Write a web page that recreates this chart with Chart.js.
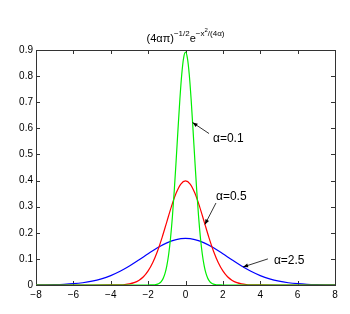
<!DOCTYPE html>
<html><head><meta charset="utf-8">
<script src="https://cdn.jsdelivr.net/npm/chart.js@4"></script>
<style>html,body{margin:0;padding:0;background:#fff}#wrap{width:350px;height:314px}</style>
</head><body><div id="wrap"><canvas id="c" width="350" height="314"></canvas></div>
<script>
// alpha = 0.1 (green)
const xGreen=[-8,-2.0,-1.9,-1.8,-1.7,-1.6,-1.5,-1.4,-1.3,-1.2,-1.1,-1.0,-0.9,-0.8,-0.7,-0.6,-0.5,-0.4,-0.3,-0.2,-0.1,0,
0.1,0.2,0.3,0.4,0.5,0.6,0.7,0.8,0.9,1.0,1.1,1.2,1.3,1.4,1.5,1.6,1.7,1.8,1.9,2.0,8];
const yGreen=[0,0.0000,0.0001,0.0003,0.0006,0.0015,0.0032,0.0066,0.0130,0.0244,0.0433,0.0732,0.1178,0.1801,0.2621,0.3627,0.4775,0.5980,0.7124,0.8072,0.8701,0.8921,
0.8701,0.8072,0.7124,0.5980,0.4775,0.3627,0.2621,0.1801,0.1178,0.0732,0.0433,0.0244,0.0130,0.0066,0.0032,0.0015,0.0006,0.0003,0.0001,0.0000,0];
// alpha = 0.5 (red)
const xRed=[-8,-7,-6,-5,-4,-3.75,-3.5,-3.25,-3,-2.75,-2.5,-2.25,-2,-1.75,-1.5,-1.25,-1,-0.75,-0.5,-0.25,0,
0.25,0.5,0.75,1,1.25,1.5,1.75,2,2.25,2.5,2.75,3,3.25,3.5,3.75,4,5,6,7,8];
const yRed=[0,0,0,0,0.0001,0.0004,0.0009,0.0020,0.0044,0.0091,0.0175,0.0317,0.0540,0.0863,0.1295,0.1826,0.2420,0.3011,0.3521,0.3867,0.3989,
0.3867,0.3521,0.3011,0.2420,0.1826,0.1295,0.0863,0.0540,0.0317,0.0175,0.0091,0.0044,0.0020,0.0009,0.0004,0.0001,0,0,0,0];
// alpha = 2.5 (blue)
const xBlue=[-8,-7.5,-7,-6.5,-6,-5.5,-5,-4.5,-4,-3.5,-3,-2.5,-2,-1.5,-1,-0.5,0,0.5,1,1.5,2,2.5,3,3.5,4,4.5,5,5.5,6,6.5,7,7.5,8];
const yBlue=[0.0003,0.0006,0.0013,0.0026,0.0049,0.0087,0.0146,0.0235,0.0360,0.0524,0.0725,0.0955,0.1196,0.1425,0.1614,0.1740,0.1784,
0.1740,0.1614,0.1425,0.1196,0.0955,0.0725,0.0524,0.0360,0.0235,0.0146,0.0087,0.0049,0.0026,0.0013,0.0006,0.0003];

const xTicks=[-8,-6,-4,-2,0,2,4,6,8];
const yTicks=[0,0.1,0.2,0.3,0.4,0.5,0.6,0.7,0.8,0.9];

// annotations: label text, label anchor (data), arrow tail (data), arrow head (data)
const annLabels=['\u03b1=0.1','\u03b1=0.5','\u03b1=2.5'];
const annTextPos=[[1.47,0.56],[1.63,0.34],[4.73,0.092]];
const annTail=[[1.26,0.58],[1.63,0.314],[4.41,0.100]];
const annHead=[[0.38,0.622],[1.04,0.232],[3.08,0.069]];

const toPts=(xs,ys)=>xs.map((x,i)=>({x:x,y:ys[i]}));
const FONT='"Liberation Sans", Arial, Helvetica, sans-serif';

const boxPlugin={
  id:'box',
  beforeDatasetsDraw(chart){
    const {ctx,chartArea:a,scales:{x,y}}=chart;
    ctx.save();
    ctx.strokeStyle='#333';ctx.lineWidth=1;
    ctx.beginPath();
    xTicks.forEach(v=>{const p=Math.round(x.getPixelForValue(v))+0.5;
      ctx.moveTo(p,a.bottom);ctx.lineTo(p,a.bottom-4);ctx.moveTo(p,a.top);ctx.lineTo(p,a.top+4);});
    yTicks.forEach(v=>{const p=Math.round(y.getPixelForValue(v))+0.5;
      ctx.moveTo(a.left,p);ctx.lineTo(a.left+4,p);ctx.moveTo(a.right,p);ctx.lineTo(a.right-4,p);});
    ctx.stroke();
    ctx.strokeRect(Math.round(a.left)+0.5,Math.round(a.top)+0.5,Math.round(a.right-a.left),Math.round(a.bottom-a.top));
    ctx.restore();
  },
  afterDatasetsDraw(chart){
    const {ctx,scales:{x,y}}=chart;
    ctx.save();
    // annotations
    ctx.font='12px '+FONT;ctx.fillStyle='#000';ctx.strokeStyle='#000';ctx.lineWidth=0.8;
    ctx.textBaseline='middle';ctx.textAlign='left';
    annLabels.forEach((t,i)=>{
      ctx.fillText(t,x.getPixelForValue(annTextPos[i][0]),y.getPixelForValue(annTextPos[i][1]));
      const tx=x.getPixelForValue(annTail[i][0]),ty=y.getPixelForValue(annTail[i][1]);
      const hx=x.getPixelForValue(annHead[i][0]),hy=y.getPixelForValue(annHead[i][1]);
      ctx.beginPath();ctx.moveTo(tx,ty);ctx.lineTo(hx,hy);ctx.stroke();
      const ang=Math.atan2(hy-ty,hx-tx),L=5,W=2;
      ctx.beginPath();
      ctx.moveTo(hx,hy);
      ctx.lineTo(hx-L*Math.cos(ang)+W*Math.sin(ang),hy-L*Math.sin(ang)-W*Math.cos(ang));
      ctx.lineTo(hx-L*Math.cos(ang)-W*Math.sin(ang),hy-L*Math.sin(ang)+W*Math.cos(ang));
      ctx.closePath();ctx.fill();
    });
    // title with superscripts
    const segs=[['(4\u03b1\u03c0)',11,0],['\u22121/2',8,-6],['e',11,0],['\u2212x',8,-6],['2',6,-10],['/(4\u03b1)',8,-6]];
    let w=0;segs.forEach(s=>{ctx.font=s[1]+'px '+FONT;w+=ctx.measureText(s[0]).width;});
    const a=chart.chartArea;let cx=(a.left+a.right)/2-w/2;const base=42;
    ctx.textBaseline='alphabetic';
    segs.forEach(s=>{ctx.font=s[1]+'px '+FONT;ctx.fillText(s[0],cx,base+s[2]);cx+=ctx.measureText(s[0]).width;});
    ctx.restore();
  }
};

new Chart(document.getElementById('c'),{
  type:'line',
  data:{datasets:[
    {label:'\u03b1=0.1',data:toPts(xGreen,yGreen),borderColor:'#00ee00',borderWidth:1.2,pointRadius:0,cubicInterpolationMode:'monotone',fill:false},
    {label:'\u03b1=0.5',data:toPts(xRed,yRed),borderColor:'#ff0000',borderWidth:1.2,pointRadius:0,cubicInterpolationMode:'monotone',fill:false},
    {label:'\u03b1=2.5',data:toPts(xBlue,yBlue),borderColor:'#0000ff',borderWidth:1.2,pointRadius:0,cubicInterpolationMode:'monotone',fill:false}
  ]},
  options:{
    responsive:false,devicePixelRatio:1,animation:false,
    layout:{padding:{top:50,right:15,left:0,bottom:0}},
    plugins:{legend:{display:false},tooltip:{enabled:false}},
    scales:{
      x:{type:'linear',min:-8,max:8,
        afterBuildTicks(s){s.ticks=xTicks.map(v=>({value:v}));},
        afterFit(s){s.height=29;},
        grid:{display:false,drawTicks:false},border:{display:false},
        ticks:{padding:4,color:'#000',font:{family:FONT,size:10},maxRotation:0,autoSkip:false,
          callback:v=>String(v).replace('-','\u2212')}},
      y:{min:0,max:0.9,
        afterBuildTicks(s){s.ticks=yTicks.map(v=>({value:v}));},
        afterFit(s){s.width=36;},
        grid:{display:false,drawTicks:false},border:{display:false},
        ticks:{padding:3,color:'#000',font:{family:FONT,size:10},autoSkip:false}}
    }
  },
  plugins:[boxPlugin]
});
</script></body></html>
